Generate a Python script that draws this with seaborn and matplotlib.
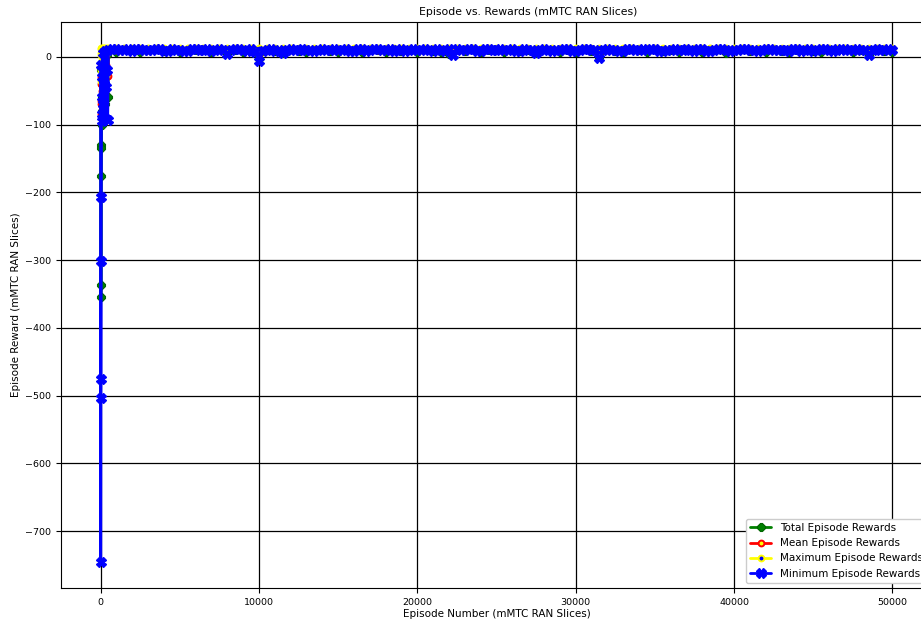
import matplotlib
matplotlib.use("Agg")
import matplotlib.pyplot as plt
import seaborn as sns

# Early exploration episodes are logged densely; afterwards the aggregate
# series are sampled every 500 episodes and the minimum every 250.
early_episodes = [0, 10, 20, 30, 40, 50, 60, 80, 100, 120, 150, 180, 210, 250, 300, 350, 400, 450]
episodes = early_episodes + list(range(500, 50001, 500))
min_episodes = early_episodes + list(range(500, 50001, 250))

total_rewards = [
    -20, -130, -355, -337, -176, -135, -100, -60, -40, -80, -10, -50, -20, -70, 5, -30, 2, -60,
    10.5, 7.2, 11.3, 9.8, 6.5, 10.9, 11.6, 8.1, 10.2, 6.9,
    11.4, 9.5, 10.8, 7.4, 11.1, 5.8, 10.3, 6.7, 11.5, -3.9,
    10.6, 8.3, 6.1, 11.2, 9.0, 7.1, 10.7, 11.4, 8.6, 6.4,
    10.9, 9.7, 7.5, 11.3, 10.1, 6.8, 11.0, 8.9, 10.4, 7.3,
    11.5, 9.2, 6.6, 4.1, 10.8, 8.0, 11.2, 6.9, 10.5, 9.4,
    7.0, 11.1, 8.7, 10.0, 6.2, 11.4, 9.6, 7.7, 10.6, 6.5,
    11.3, 8.4, -0.8, 10.9, 9.1, 6.9, 11.2, 10.3, 7.6, 11.5,
    8.2, 10.1, 6.7, 11.0, 9.3, 7.4, 10.8, 11.4, 6.3, 9.8,
    11.1, 7.9, 10.4, 6.8, 11.3, 9.0, 7.2, 10.6, 11.5, 8.5,
    6.6, 10.9, 9.7, 11.2, 7.1, 10.2, 4.6, 11.0, 8.8, 6.9,
]

mean_rewards = [
    -10, -70, -85, -65, -40, -30, -50, -20, -35, -15, 4, -25, -8, -45, 9, -12, 6, -28,
    11.2, 10.6, 11.8, 10.9, 11.5, 10.3, 11.9, 11.0, 10.7, 11.6,
    10.5, 11.3, 12.0, 10.8, 11.4, 9.2, 11.7, 10.4, 11.1, 3.5,
    11.8, 10.6, 9.4, 11.3, 10.9, 11.6, 10.2, 11.9, 11.0, 10.7,
    11.5, 10.4, 11.2, 11.8, 10.6, 11.4, 10.9, 12.1, 10.3, 11.1,
    11.7, 10.8, 11.3, 8.1, 11.6, 10.5, 11.9, 10.7, 11.2, 11.0,
    10.4, 11.8, 10.9, 11.5, 9.0, 11.3, 10.6, 12.0, 11.1, 10.5,
    11.7, 10.8, 4.2, 11.4, 11.0, 10.3, 11.9, 10.7, 11.2, 11.6,
    10.4, 11.5, 10.9, 11.8, 10.6, 11.3, 10.2, 12.0, 11.1, 10.8,
    11.6, 10.5, 11.4, 10.9, 11.7, 10.3, 11.2, 11.9, 10.7, 11.0,
    11.5, 10.6, 11.8, 11.3, 10.4, 11.1, 8.6, 11.7, 10.9, 11.4,
]

max_rewards = [
    2, -20, -35, 5, 12, 13, -5, 11, 6, 12.5, 13, 8, 12.8, 3, 13.2, 10, 13, 7,
    13.1, 12.8, 13.3, 12.9, 13.2, 12.7, 13.4, 13.0, 12.8, 13.3,
    12.9, 13.1, 13.4, 12.7, 13.2, 13.0, 12.8, 13.3, 13.1, 12.6,
    13.2, 12.9, 13.0, 13.4, 12.8, 13.1, 13.3, 12.7, 13.0, 13.2,
    12.9, 13.4, 13.1, 12.8, 13.3, 13.0, 12.7, 13.2, 13.4, 12.9,
    13.1, 12.8, 13.3, 12.6, 13.2, 13.0, 12.9, 13.4, 13.1, 12.8,
    13.3, 12.7, 13.0, 13.2, 12.9, 13.4, 13.1, 12.8, 13.3, 13.0,
    12.7, 13.2, 12.6, 13.4, 12.9, 13.1, 12.8, 13.3, 13.0, 13.2,
    12.9, 13.4, 12.7, 13.1, 13.3, 12.8, 13.0, 13.2, 12.9, 13.4,
    13.1, 12.7, 13.3, 13.0, 12.8, 13.2, 13.4, 12.9, 13.1, 12.8,
    13.3, 13.0, 12.7, 13.2, 13.4, 12.9, 12.8, 13.1, 13.3, 13.0,
]

min_rewards = [
    -12, -746, -503, -475, -301, -207, -60, -95, -30, -85, 5, -70, -40, -90, 8, -45, -20, -93,
    9.8, 11.0, 11.2, 9.4, 10.4, 10.8, 8.9, 11.3, 11.5,
    9.7, 9.6, 10.5, 10.9, 11.4, 8.4, 9.2, 11.0, 10.6, 10.1,
    8.8, 9.2, 10.9, 11.4, 9.9, 10.6, 11.2, 8.7, 10.0, 11.1,
    9.6, 4.5, 10.2, 10.8, 11.0, 9.5, 8.8, 11.3, 7.5, -5.8,
    9.1, 10.2, 11.3, 9.1, 10.4, 5.2, 10.7, 11.0, 9.6, 9.9,
    11.2, 10.7, 9.4, 8.8, 10.6, 11.4, 9.8, 10.3, 11.0, 9.4,
    10.5, 11.2, 8.9, 8.6, 11.1, 10.9, 9.2, 9.7, 10.8, 11.5,
    9.5, 10.0, 11.3, 8.9, 10.1, 11.1, 8.7, 9.3, 11.4, 10.6,
    10.2, 11.4, 9.6, 9.0, 11.2, 10.5, 8.9, 10.8, 2.8, 11.2,
    10.7, 9.8, 11.1, 10.8, 8.5, 8.5, 10.9, 11.3, 9.7, 10.1,
    11.3, 9.6, 10.4, 11.0, 9.2, 8.8, 11.1, 10.7, 9.5, 4.9,
    10.6, 11.4, 9.8, 9.2, 10.5, 10.4, 11.3, 11.1, 8.9, 8.7,
    10.2, 10.9, 11.2, 9.5, 9.9, -2.4, 10.6, 11.3, 9.4, 10.2,
    8.7, 8.9, 11.0, 11.0, 9.3, 9.7, 10.8, 10.6, 11.5, 11.5,
    9.0, 8.6, 10.1, 10.3, 11.0, 9.9, 10.2, 11.2, 9.6, 9.1,
    11.3, 10.8, 8.7, 8.4, 10.6, 11.4, 10.9, 10.0, 9.1, 9.4,
    10.7, 11.1, 11.2, 10.5, 9.4, 8.8, 10.3, 11.3, 11.4, 9.6,
    9.9, 10.7, 10.5, 9.0, 11.0, 11.0, 8.5, 10.4, 10.8, 8.7,
    9.3, 11.2, 11.0, 9.3, 8.6, 10.9, 10.6, 11.4, 10.0, 9.8,
    11.2, 10.1, 10.3, 3.1, 10.4, 11.1, 9.7, 10.6, 11.0, 9.5,
]

series = [
    ("Total Episode Rewards", episodes, total_rewards,
     dict(color="green", marker="8", markersize=5.5, markerfacecolor="green",
          markeredgecolor="darkgreen", markeredgewidth=0.8)),
    ("Mean Episode Rewards", episodes, mean_rewards,
     dict(color="red", marker="o", markersize=4.2, markerfacecolor="yellow",
          markeredgecolor="red", markeredgewidth=1.4)),
    ("Maximum Episode Rewards", episodes, max_rewards,
     dict(color="yellow", marker="o", markersize=4.2, markerfacecolor="blue",
          markeredgecolor="yellow", markeredgewidth=1.4)),
    ("Minimum Episode Rewards", min_episodes, min_rewards,
     dict(color="blue", marker="X", markersize=7, markerfacecolor="blue",
          markeredgecolor="blue", markeredgewidth=1.0)),
]

sns.set_theme(style="white")
plt.rcParams.update({
    "font.family": ["DejaVu Sans"],
    "font.size": 7.5,
    "axes.edgecolor": "black",
    "axes.linewidth": 0.8,
    "xtick.color": "black",
    "ytick.color": "black",
    "axes.labelcolor": "black",
    "text.color": "black",
})

fig = plt.figure(figsize=(9.21, 6.23), dpi=100)
ax = fig.add_axes([0.0662, 0.0562, 0.9457, 0.9085])

for label, xs, values, style in series:
    sns.lineplot(x=xs, y=values, ax=ax, label=label, estimator=None,
                 sort=False, linewidth=2, legend=False, **style)

ax.grid(True, color="black", linewidth=0.9, linestyle="-")
ax.set_axisbelow(True)
ax.set_xticks([0, 10000, 20000, 30000, 40000, 50000])
ax.set_yticks(list(range(-700, 1, 100)))
ax.tick_params(axis="both", direction="out", length=3.5, width=0.8,
               labelsize=6.8, bottom=True, left=True)

ax.set_title("Episode vs. Rewards (mMTC RAN Slices)", fontsize=7.8, pad=5, x=0.536)
ax.set_xlabel("Episode Number (mMTC RAN Slices)", fontsize=7.5, labelpad=2)
ax.set_ylabel("Episode Reward (mMTC RAN Slices)", fontsize=7.5, labelpad=3)

ax.legend(loc="lower right", fontsize=7.5, frameon=True, framealpha=1,
          edgecolor="#cccccc", fancybox=True)

fig.savefig("out.png", dpi=100)
